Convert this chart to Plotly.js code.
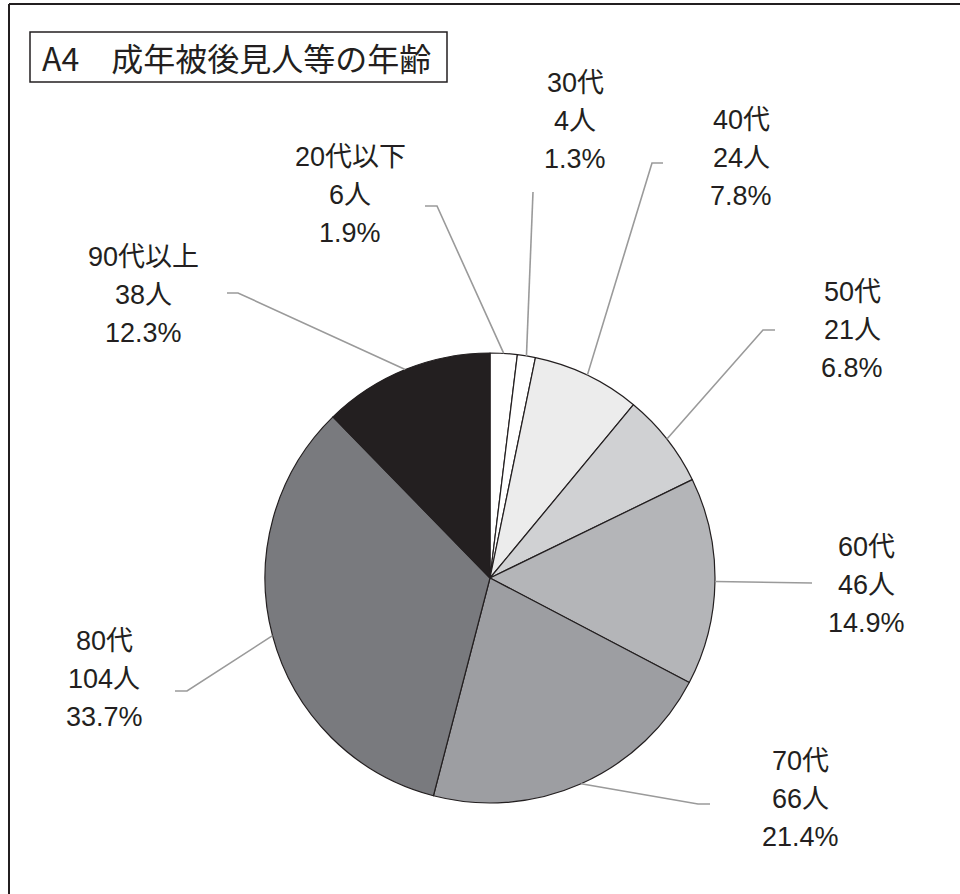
<!DOCTYPE html>
<html>
<head>
<meta charset="utf-8">
<script src="https://cdn.plot.ly/plotly-3.0.1.min.js"></script>
<style>html,body{margin:0;padding:0;background:#fff;}#chart{width:960px;height:894px;}</style>
</head>
<body>
<div id="chart"></div>
<script>
// ---- data ----
const categories = ["20代以下", "30代", "40代", "50代", "60代", "70代", "80代", "90代以上"];
const counts = [6, 4, 24, 21, 46, 66, 104, 38];
const colors = ["#ffffff", "#ffffff", "#ececec", "#d0d1d3", "#b4b5b8", "#9d9ea2", "#797a7e", "#231f20"];
const chartTitle = "A4　成年被後見人等の年齢";
const unit = "人";

// ---- layout (pixel positions) ----
const W = 960, H = 894;
const cx = 490, cy = 578, R = 225;
const linePitch = 38;
// label centre [x, y of middle line] and leader [elbowX, elbowY, endX, endY]
const labelPos = [[350, 195], [575, 121], [741, 158], [852, 330], [866, 585], [800, 799], [104, 679], [143, 295]];
const leaderPos = [[437, 206, 425, 206], [533, 192, 533, 192], [652, 163, 663, 163], [763, 330, 775, 330],
                   [812, 583, 812, 583], [698, 804, 710, 804], [187, 691, 175, 691], [238, 293, 227, 293]];

const px = x => x / W;
const py = y => 1 - y / H;
const total = counts.reduce((a, b) => a + b, 0);

const trace = {
  type: "pie",
  values: counts,
  labels: categories,
  sort: false,
  direction: "clockwise",
  rotation: 0,
  textinfo: "none",
  hoverinfo: "label+value+percent",
  marker: { colors: colors, line: { color: "#231f20", width: 1.2 } },
  domain: { x: [px(cx - R), px(cx + R)], y: [py(cy + R), py(cy - R)] },
  showlegend: false
};

const labelFont = { family: "'Liberation Sans', 'Noto Sans CJK JP', sans-serif", size: 27, color: "#231f20" };
const annotations = [];
const shapes = [];
let cum = 0;
counts.forEach((v, i) => {
  const theta = 2 * Math.PI * (cum + v / 2) / total;
  cum += v;
  const ex = cx + R * Math.sin(theta), ey = cy - R * Math.cos(theta);
  const pct = (v / total * 100).toFixed(1);
  const lines = [categories[i], v + unit, pct + "%"];
  lines.forEach((t, k) => {
    annotations.push({
      xref: "paper", yref: "paper", x: px(labelPos[i][0]), y: py(labelPos[i][1] + (k - 1) * linePitch),
      xanchor: "center", yanchor: "middle", showarrow: false, align: "center",
      text: t, font: labelFont
    });
  });
  const l = leaderPos[i];
  shapes.push({
    type: "path", xref: "paper", yref: "paper",
    path: `M ${px(ex)} ${py(ey)} L ${px(l[0])} ${py(l[1])} L ${px(l[2])} ${py(l[3])}`,
    line: { color: "#9a9a9a", width: 1.6 }
  });
});

// frame
shapes.push({ type: "line", xref: "paper", yref: "paper", x0: px(9), y0: py(4), x1: px(960), y1: py(4), line: { color: "#231f20", width: 2 } });
shapes.push({ type: "line", xref: "paper", yref: "paper", x0: px(9), y0: py(4), x1: px(9), y1: py(894), line: { color: "#231f20", width: 2 } });
// title box
shapes.push({ type: "rect", xref: "paper", yref: "paper", x0: px(30), y0: py(32), x1: px(447), y1: py(82), line: { color: "#231f20", width: 1.5 } });
annotations.push({
  xref: "paper", yref: "paper", x: px(40), y: py(57), xanchor: "left", yanchor: "middle", showarrow: false,
  text: chartTitle, font: { family: "'Noto Sans CJK JP', sans-serif", size: 32, color: "#231f20" }
});

const layout = {
  width: W, height: H,
  margin: { l: 0, r: 0, t: 0, b: 0 },
  paper_bgcolor: "#ffffff", plot_bgcolor: "#ffffff",
  showlegend: false,
  annotations: annotations,
  shapes: shapes
};

Plotly.newPlot("chart", [trace], layout, { displayModeBar: false, staticPlot: true });
</script>
</body>
</html>
